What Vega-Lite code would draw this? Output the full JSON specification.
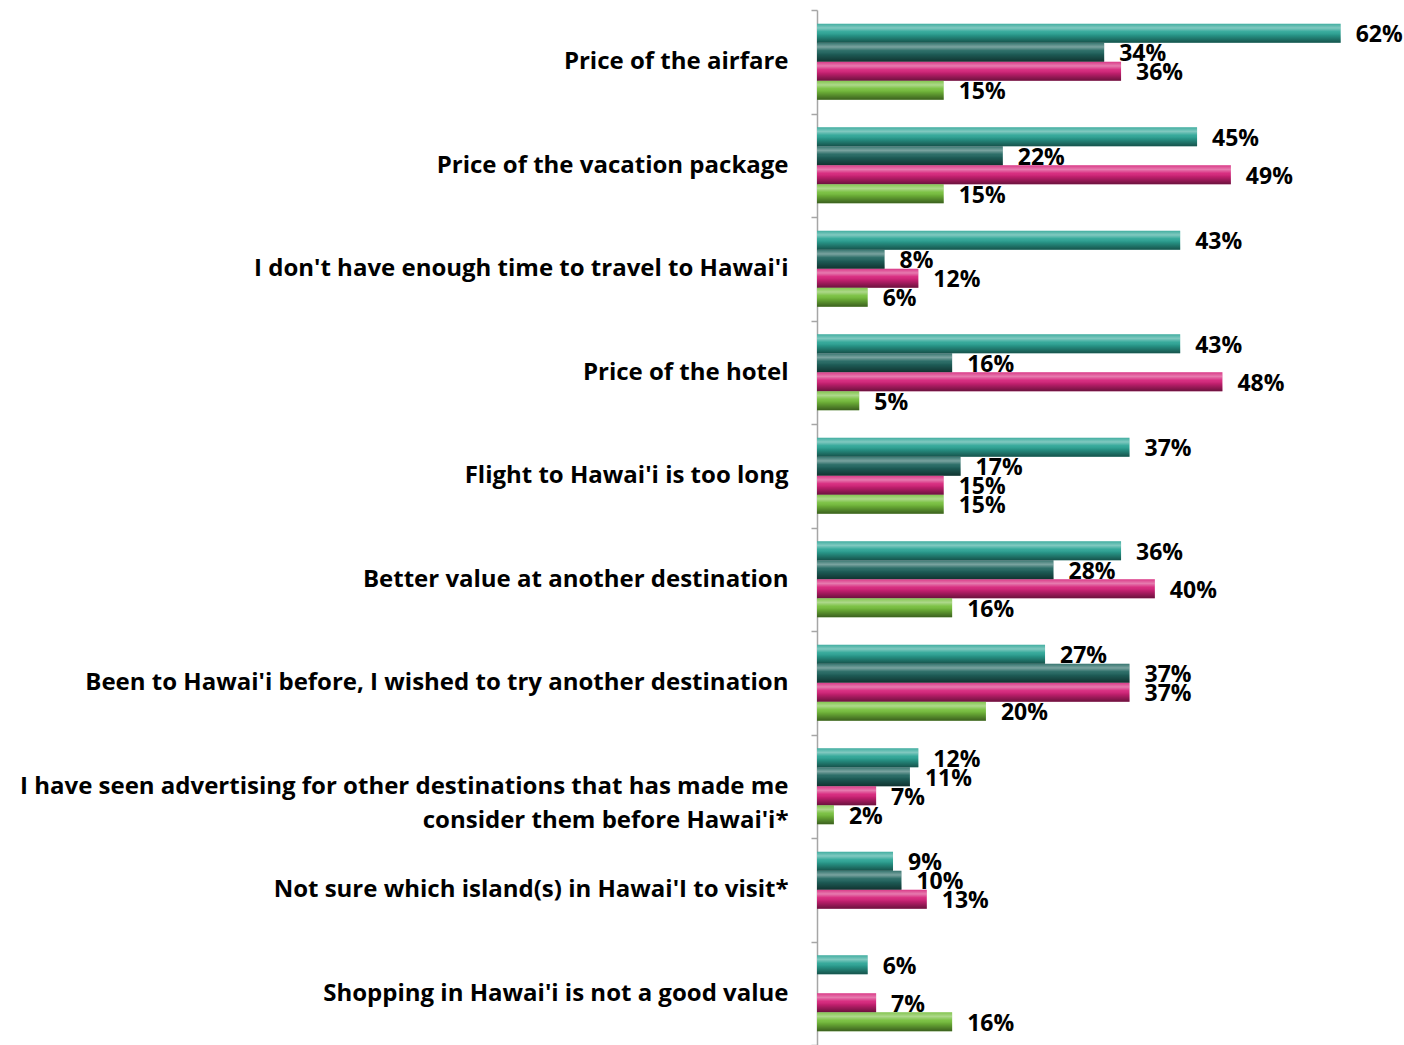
{
  "$schema": "https://vega.github.io/schema/vega-lite/v6.json",
  "autosize": {"type": "none"},
  "padding": {"left": 817, "top": 10, "right": 0, "bottom": 0},
  "width": 587,
  "height": 1035,
  "background": "white",
  "config": {"view": {"stroke": null}},
  "data": {
    "values": [
      {"item": "Price of the airfare", "series": "S1", "v": 0.62},
      {"item": "Price of the airfare", "series": "S2", "v": 0.34},
      {"item": "Price of the airfare", "series": "S3", "v": 0.36},
      {"item": "Price of the airfare", "series": "S4", "v": 0.15},
      {"item": "Price of the vacation package", "series": "S1", "v": 0.45},
      {"item": "Price of the vacation package", "series": "S2", "v": 0.22},
      {"item": "Price of the vacation package", "series": "S3", "v": 0.49},
      {"item": "Price of the vacation package", "series": "S4", "v": 0.15},
      {"item": "I don't have enough time to travel to Hawai'i", "series": "S1", "v": 0.43},
      {"item": "I don't have enough time to travel to Hawai'i", "series": "S2", "v": 0.08},
      {"item": "I don't have enough time to travel to Hawai'i", "series": "S3", "v": 0.12},
      {"item": "I don't have enough time to travel to Hawai'i", "series": "S4", "v": 0.06},
      {"item": "Price of the hotel", "series": "S1", "v": 0.43},
      {"item": "Price of the hotel", "series": "S2", "v": 0.16},
      {"item": "Price of the hotel", "series": "S3", "v": 0.48},
      {"item": "Price of the hotel", "series": "S4", "v": 0.05},
      {"item": "Flight to Hawai'i is too long", "series": "S1", "v": 0.37},
      {"item": "Flight to Hawai'i is too long", "series": "S2", "v": 0.17},
      {"item": "Flight to Hawai'i is too long", "series": "S3", "v": 0.15},
      {"item": "Flight to Hawai'i is too long", "series": "S4", "v": 0.15},
      {"item": "Better value at another destination", "series": "S1", "v": 0.36},
      {"item": "Better value at another destination", "series": "S2", "v": 0.28},
      {"item": "Better value at another destination", "series": "S3", "v": 0.40},
      {"item": "Better value at another destination", "series": "S4", "v": 0.16},
      {"item": "Been to Hawai'i before, I wished to try another destination", "series": "S1", "v": 0.27},
      {"item": "Been to Hawai'i before, I wished to try another destination", "series": "S2", "v": 0.37},
      {"item": "Been to Hawai'i before, I wished to try another destination", "series": "S3", "v": 0.37},
      {"item": "Been to Hawai'i before, I wished to try another destination", "series": "S4", "v": 0.20},
      {"item": "I have seen advertising for other destinations that has made me|consider them before Hawai'i*", "series": "S1", "v": 0.12},
      {"item": "I have seen advertising for other destinations that has made me|consider them before Hawai'i*", "series": "S2", "v": 0.11},
      {"item": "I have seen advertising for other destinations that has made me|consider them before Hawai'i*", "series": "S3", "v": 0.07},
      {"item": "I have seen advertising for other destinations that has made me|consider them before Hawai'i*", "series": "S4", "v": 0.02},
      {"item": "Not sure which island(s) in Hawai'I to visit*", "series": "S1", "v": 0.09},
      {"item": "Not sure which island(s) in Hawai'I to visit*", "series": "S2", "v": 0.10},
      {"item": "Not sure which island(s) in Hawai'I to visit*", "series": "S3", "v": 0.13},
      {"item": "Shopping in Hawai'i is not a good value", "series": "S1", "v": 0.06},
      {"item": "Shopping in Hawai'i is not a good value", "series": "S3", "v": 0.07},
      {"item": "Shopping in Hawai'i is not a good value", "series": "S4", "v": 0.16}
    ]
  },
  "encoding": {
    "y": {
      "field": "item",
      "type": "nominal",
      "sort": null,
      "title": null,
      "scale": {"paddingInner": 0, "paddingOuter": 0},
      "axis": {
        "tickBand": "extent",
        "labelExpr": "split(datum.label, '|')",
        "labelLimit": 0,
        "labelFont": "Open Sans",
        "labelFontWeight": "bold",
        "labelFontSize": 24,
        "labelColor": "black",
        "labelPadding": 23,
        "labelLineHeight": 34,
        "tickSize": 6,
        "domainColor": "#a6a6a6",
        "tickColor": "#a6a6a6",
        "domainWidth": 1.5,
        "tickWidth": 1.5,
        "grid": false
      }
    },
    "yOffset": {
      "field": "series",
      "type": "nominal",
      "scale": {"domain": ["S1", "S2", "S3", "S4"], "paddingInner": 0, "paddingOuter": 0.724}
    },
    "x": {
      "field": "v",
      "type": "quantitative",
      "scale": {"domain": [0, 0.695], "nice": false},
      "axis": null
    }
  },
  "layer": [
    {
      "mark": {"type": "bar"},
      "encoding": {
        "color": {
          "field": "series",
          "type": "nominal",
          "scale": {"domain": ["S1", "S2", "S3", "S4"], "range": ["#2ca596", "#216660", "#d6237a", "#76bf3c"]},
          "legend": null
        }
      }
    },
    {
      "mark": {
        "type": "bar",
        "fill": {
          "gradient": "linear",
          "x1": 0, "y1": 0, "x2": 0, "y2": 1,
          "stops": [
            {"offset": 0, "color": "rgba(255,255,255,0.1)"},
            {"offset": 0.22, "color": "rgba(255,255,255,0.4)"},
            {"offset": 0.42, "color": "rgba(255,255,255,0.05)"},
            {"offset": 0.6, "color": "rgba(0,0,0,0.1)"},
            {"offset": 1, "color": "rgba(0,0,0,0.5)"}
          ]
        }
      }
    },
    {
      "mark": {"type": "text", "align": "left", "baseline": "middle", "dx": 15, "dy": 2, "font": "Open Sans", "fontWeight": "bold", "fontSize": 23, "color": "black"},
      "encoding": {"text": {"field": "v", "format": ".0%"}}
    }
  ]
}
